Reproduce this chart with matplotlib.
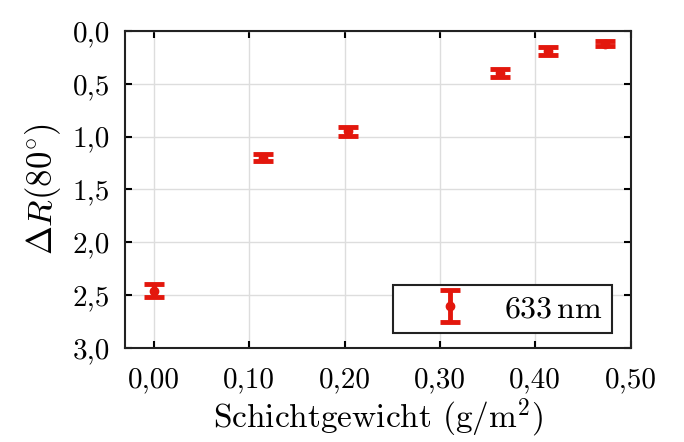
import matplotlib
matplotlib.use("Agg")
import matplotlib.pyplot as plt
from matplotlib.ticker import FuncFormatter, MultipleLocator

# data
gewicht = [0.000, 0.114, 0.204, 0.363, 0.413, 0.473]
delta_r = [2.46, 1.20, 0.95, 0.40, 0.19, 0.12]
fehler = [0.06, 0.035, 0.04, 0.04, 0.04, 0.025]
legend_label = r"633$\,$nm"

plt.rcParams["font.family"] = "cmr10"
plt.rcParams["mathtext.fontset"] = "cm"
plt.rcParams["axes.formatter.use_mathtext"] = True

fig = plt.figure(figsize=(6.84, 4.42), dpi=100)
ax = fig.add_axes([0.183, 0.213, 0.739, 0.717])

ax.errorbar(gewicht, delta_r, yerr=fehler, fmt="o", color="#e3170d",
            markersize=6, elinewidth=3.5, capsize=7, capthick=3.5,
            label=legend_label, zorder=3)

ax.set_xlim(-0.03, 0.50)
ax.set_ylim(3.0, 0.0)
ax.xaxis.set_major_locator(MultipleLocator(0.1))
ax.yaxis.set_major_locator(MultipleLocator(0.5))
ax.xaxis.set_major_formatter(FuncFormatter(lambda v, p: f"{v:.2f}".replace(".", ",")))
ax.yaxis.set_major_formatter(FuncFormatter(lambda v, p: f"{v:.1f}".replace(".", ",")))

ax.grid(True, color="#dddddd", linewidth=1)
ax.set_axisbelow(True)
for s in ax.spines.values():
    s.set_linewidth(1.5)
    s.set_color("#222222")
ax.tick_params(direction="in", top=True, right=True, length=5, width=1.5,
               labelsize=21)
ax.tick_params(axis="x", pad=14)
ax.tick_params(axis="y", pad=11)

ax.set_xlabel(r"Schichtgewicht (g/m$^2$)", fontsize=24, labelpad=2)
ax.set_ylabel(r"$\Delta R(80^{\circ})$", fontsize=25, labelpad=7)

leg = ax.legend(loc="lower right", fontsize=23, fancybox=False,
                edgecolor="#222222", framealpha=1, borderpad=0.3,
                borderaxespad=0, handlelength=3.0, handletextpad=0.2,
                bbox_to_anchor=(0.964, 0.047))
leg.get_frame().set_linewidth(1.5)

fig.savefig("out.png", dpi=100)
